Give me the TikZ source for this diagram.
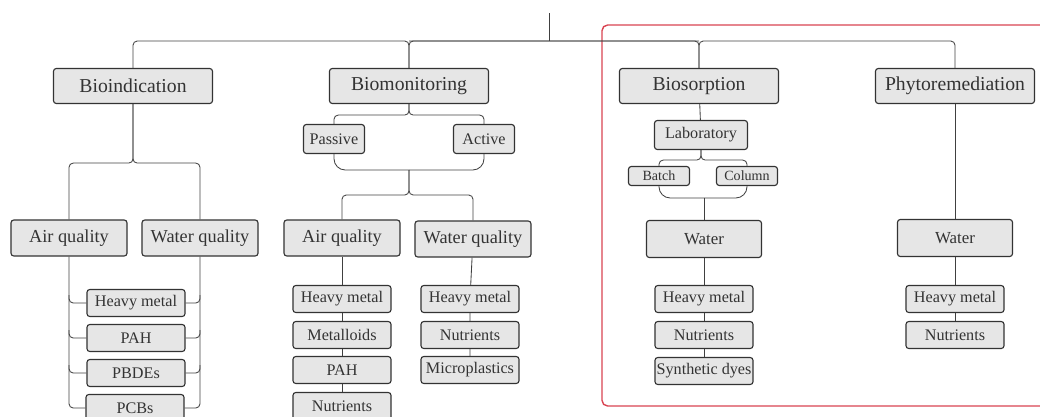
\documentclass[tikz,border=0pt]{standalone}
\usepackage{fontspec}
\setmainfont{Liberation Serif}
\usetikzlibrary{positioning}
\definecolor{boxfill}{HTML}{E6E6E6}
\definecolor{frame}{HTML}{D94452}
\tikzset{
  box/.style={draw=black!80,fill=boxfill,text=black!80,line width=0.8pt,rounded corners=2pt,inner sep=1pt},
  head/.style={box,minimum width=3.975cm,minimum height=0.875cm,font=\fontsize{14}{16}\selectfont},
  quality/.style={box,minimum width=2.9cm,minimum height=0.9cm,font=\fontsize{13}{15}\selectfont},
  water/.style={box,minimum width=2.875cm,minimum height=0.925cm,font=\fontsize{12}{14}\selectfont},
  item/.style={box,minimum width=2.45cm,minimum height=0.675cm,font=\fontsize{11.5}{13}\selectfont},
  mode/.style={box,minimum width=1.525cm,minimum height=0.725cm,font=\fontsize{11.5}{13}\selectfont},
  lab/.style={box,minimum width=2.325cm,minimum height=0.725cm,font=\fontsize{11.5}{13}\selectfont},
  tiny/.style={box,minimum width=1.525cm,minimum height=0.475cm,font=\fontsize{10}{12}\selectfont},
  link/.style={draw=black!75,line width=0.6pt,rounded corners=3pt},
}
\begin{document}
\begin{tikzpicture}[x=0.025cm,y=-0.025cm]
  \useasboundingbox (0,0) rectangle (1040,416);
  \draw[frame,line width=1pt,rounded corners=4pt] (602,25) rectangle (1060,406);

  \node[head] (bioind) at (133,86) {Bioindication};
  \node[head] (biomon) at (409,86) {Biomonitoring};
  \node[head] (biosorp) at (699,86) {Biosorption};
  \node[head] (phyto) at (955,86) {Phytoremediation};

  \node[quality] (airA) at (69,238) {Air quality};
  \node[quality] (waterA) at (200,238) {Water quality};
  \node[item] (hmA) at (136,303) {Heavy metal};
  \node[item] (pahA) at (136,338) {PAH};
  \node[item] (pbdeA) at (136,373) {PBDEs};
  \node[item] (pcbA) at (135,408) {PCBs};

  \node[mode] (passive) at (334,139) {Passive};
  \node[mode] (active) at (484,139) {Active};
  \node[quality] (airB) at (342,238) {Air quality};
  \node[quality] (waterB) at (473,239) {Water quality};
  \node[item] (hmB) at (342,299) {Heavy metal};
  \node[item] (metB) at (342,335) {Metalloids};
  \node[item] (pahB) at (342,370) {PAH};
  \node[item] (nutB) at (342,406) {Nutrients};
  \node[item] (hmC) at (470,299) {Heavy metal};
  \node[item] (nutC) at (470,335) {Nutrients};
  \node[item] (micC) at (470,370) {Microplastics};

  \node[lab] (lab) at (701,135) {Laboratory};
  \node[tiny] (batch) at (659,176) {Batch};
  \node[tiny] (column) at (747,176) {Column};
  \node[water] (water1) at (704,239) {Water};
  \node[item] (hmD) at (704,299) {Heavy metal};
  \node[item] (nutD) at (704,335) {Nutrients};
  \node[item] (dyeD) at (704,371) {Synthetic dyes};

  \node[water] (water2) at (955,238) {Water};
  \node[item] (hmE) at (955,299) {Heavy metal};
  \node[item] (nutE) at (955,335) {Nutrients};

  \coordinate (root) at (549,13);
  \coordinate (bar) at (549,41);
  \draw[link] (root) -- (bar);
  \draw[link] (bioind.north) |- (biomon.north |- bar) -- (biomon.north);
  \draw[link] (biosorp.north |- bar) -| (biomon.north);
  \draw[link] (phyto.north) |- (biosorp.north |- bar) -- (biosorp.north);
  \draw[link] (biomon.north |- bar) -| (biosorp.north);

  \draw[link] (bioind.south) -- ++(0,59) -| (airA.north);
  \draw[link] (bioind.south) -- ++(0,59) -| (waterA.north);
  \draw[link] (airA.south) |- (pcbA.west);
  \draw[link] (waterA.south) |- (pcbA.east);
  \foreach \n in {hmA,pahA,pbdeA} {
    \draw[link] (\n.west -| airA.south) ++(0,-8) |- (\n.west);
    \draw[link] (\n.east -| waterA.south) ++(0,-8) |- (\n.east);
  }

  \draw[link] (biomon.south) -- ++(0,11) -| (passive.north);
  \draw[link] (biomon.south) -- ++(0,11) -| (active.north);
  \coordinate (bmjoin) at (409,170);
  \draw[link,rounded corners=8pt] (passive.south) |- (bmjoin);
  \draw[link,rounded corners=8pt] (active.south) |- (bmjoin);
  \draw[link] (bmjoin) -- ++(0,25) -| (airB.north);
  \draw[link] (bmjoin) -- ++(0,25) -| (waterB.north);
  \draw[link] (airB) -- (hmB) -- (metB) -- (pahB) -- (nutB);
  \draw[link] (waterB) -- (hmC) -- (nutC) -- (micC);

  \draw[link] (biosorp) -- (lab);
  \draw[link] (lab.south) -- ++(0,10) -| (batch.north);
  \draw[link] (lab.south) -- ++(0,10) -| (column.north);
  \coordinate (bsjoin) at (704,198);
  \draw[link,rounded corners=8pt] (batch.south) |- (bsjoin);
  \draw[link,rounded corners=8pt] (column.south) |- (bsjoin);
  \draw[link] (bsjoin) -- (water1.north);
  \draw[link] (water1) -- (hmD) -- (nutD) -- (dyeD);

  \draw[link] (phyto) -- (water2) -- (hmE) -- (nutE);
\end{tikzpicture}
\end{document}
